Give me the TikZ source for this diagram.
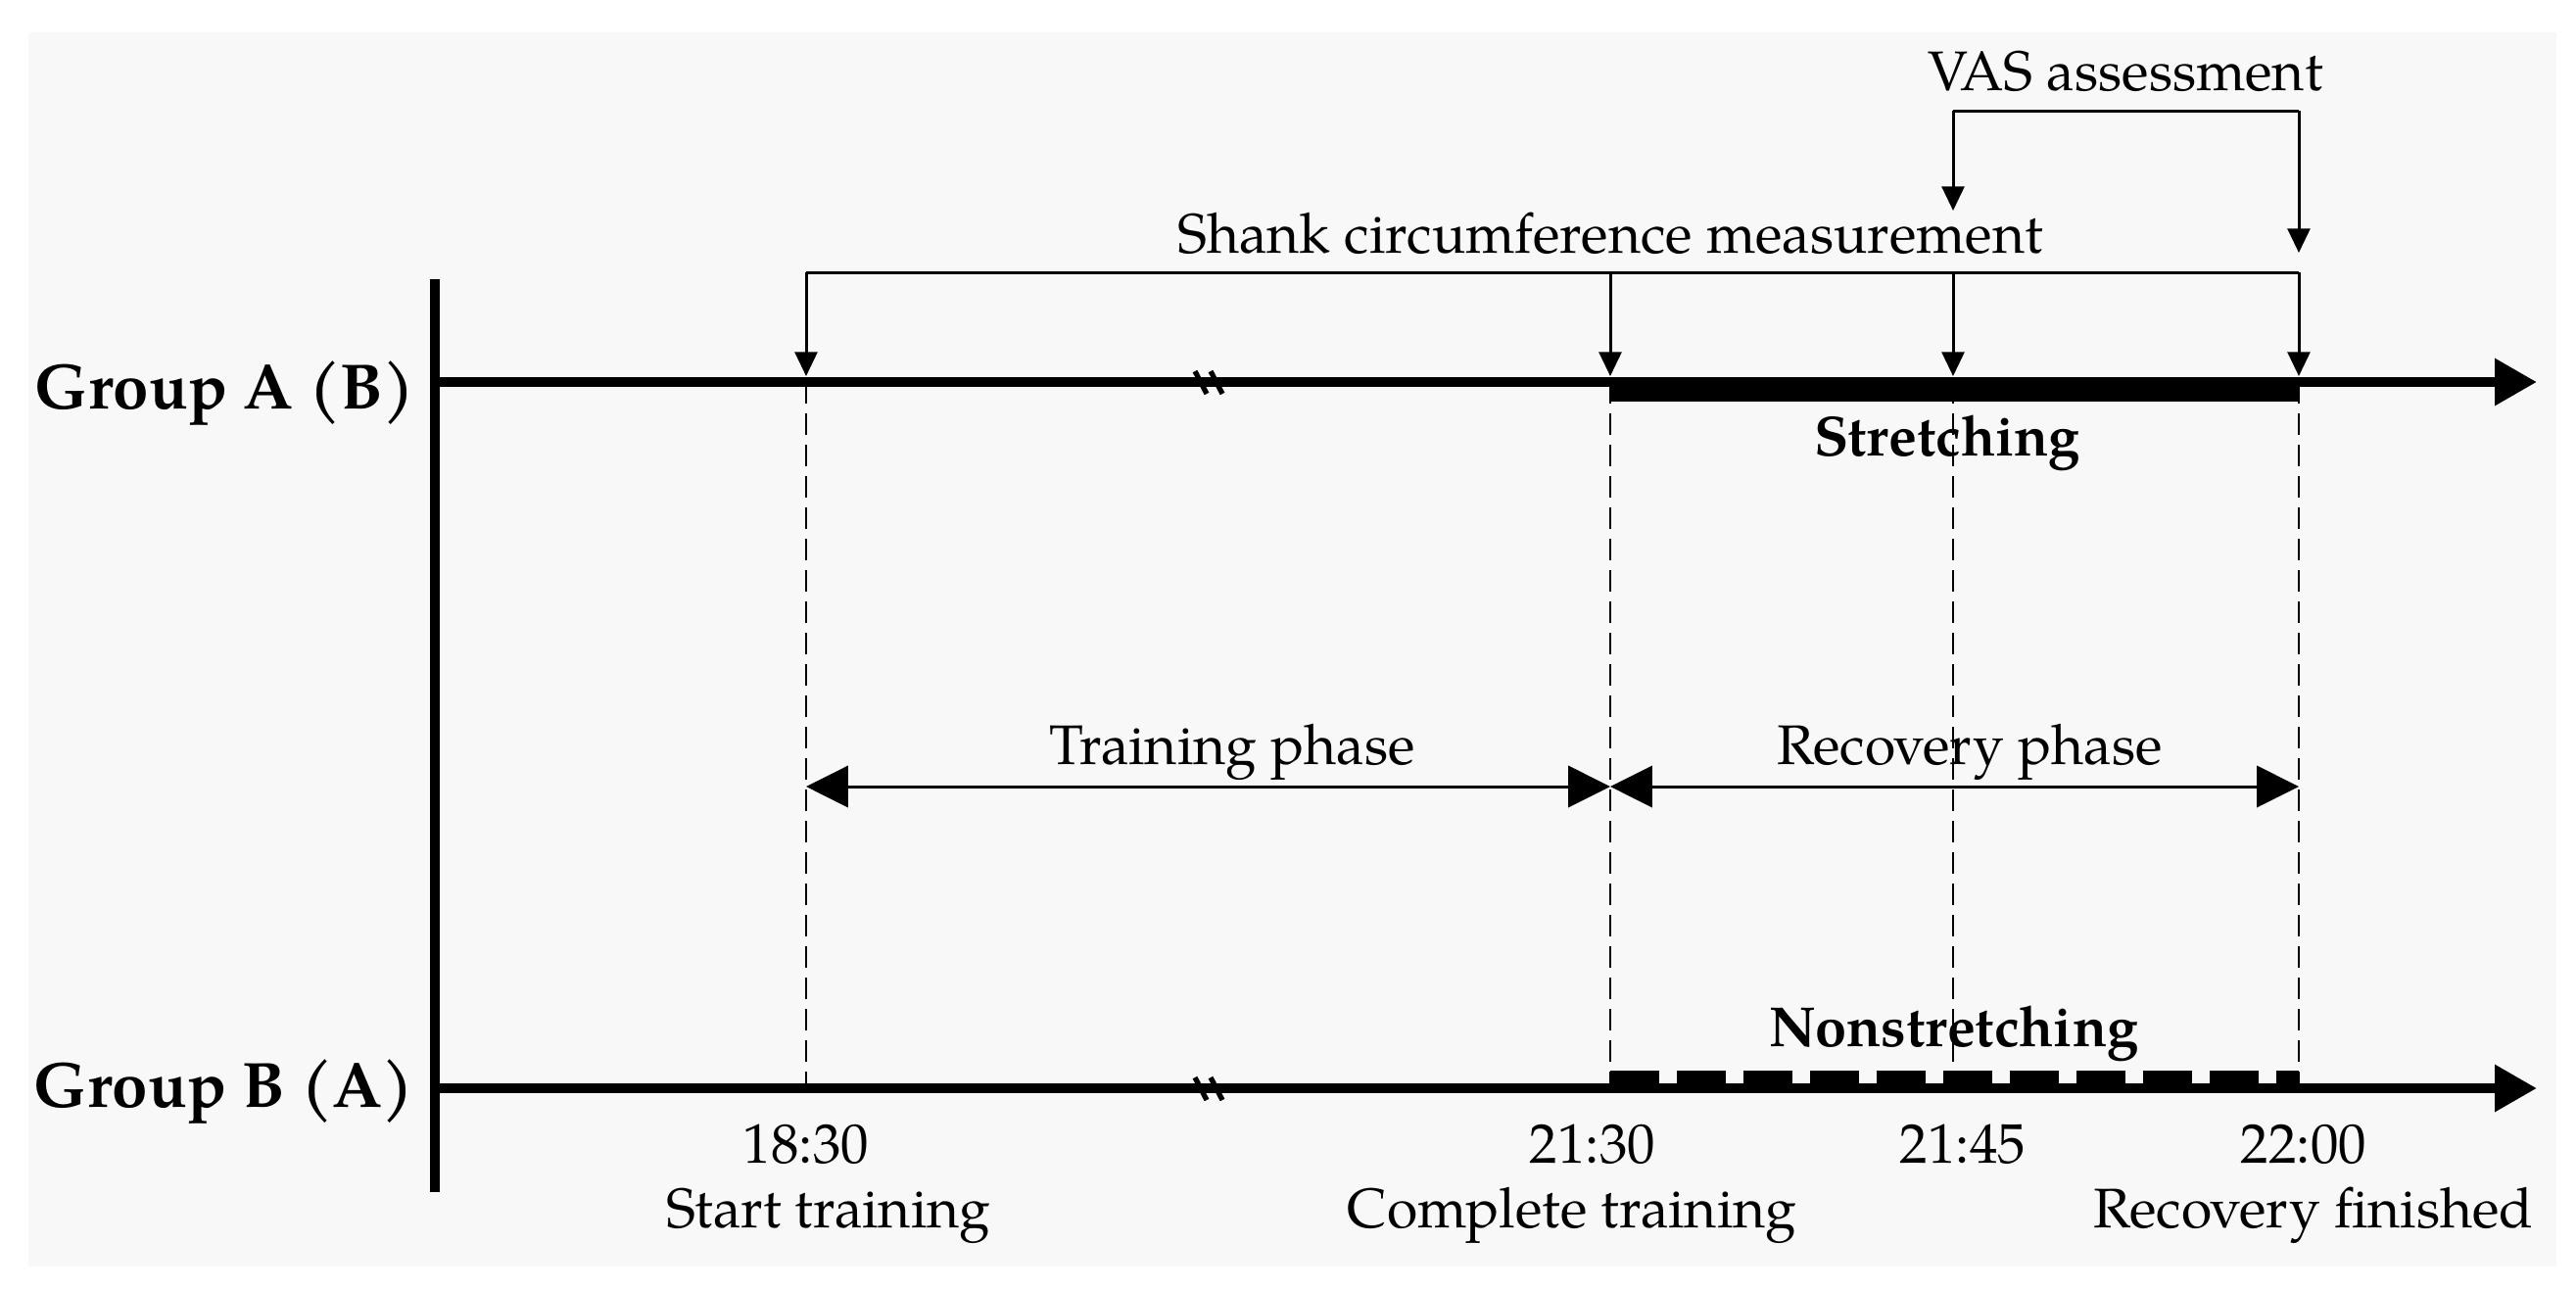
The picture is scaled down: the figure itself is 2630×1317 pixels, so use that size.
\documentclass[tikz,border=0pt]{standalone}
\usepackage{fontspec}
\setmainfont{texgyrepagella}[Extension=.otf,UprightFont=*-regular,BoldFont=*-bold,ItalicFont=*-italic,BoldItalicFont=*-bolditalic]
\usetikzlibrary{arrows.meta}
\definecolor{bgc}{RGB}{248,248,248}
\begin{document}
\begin{tikzpicture}[x=0.01cm,y=-0.01cm,
  mainline/.style={line width=2.85pt},
  thinline/.style={line width=0.85pt},
  guide/.style={line width=0.7pt, dash pattern=on 6.3pt off 2.8pt},
  lbl/.style={inner sep=0pt, anchor=base, font=\fontsize{16.2}{19}\selectfont},
  blbl/.style={inner sep=0pt, anchor=base, font=\fontsize{16.4}{19}\selectfont\bfseries},
  glbl/.style={inner sep=0pt, anchor=base east, font=\fontsize{18.6}{22}\selectfont\bfseries},
  bigtip/.style={-{Triangle[length=12.2pt,width=13pt]}},
  smalltip/.style={-{Triangle[length=7pt,width=6.5pt]}},
  phase/.style={thinline,{Triangle[length=12.2pt,width=12pt]}-{Triangle[length=12.2pt,width=12pt]}},
  breakmark/.style={line width=1.5pt},
]
\useasboundingbox (0,0) rectangle (2630,1317);
\fill[bgc] (29,33) rectangle (2610,1293);

% coordinates
\coordinate (A0) at (444,390);
\coordinate (Aend) at (2590,390);
\coordinate (B0) at (444,1111);
\coordinate (Bend) at (2590,1111);
\coordinate (A1) at (823,390);
\coordinate (A2) at (1644,390);
\coordinate (A3) at (1994,390);
\coordinate (A4) at (2347,390);
\coordinate (B1) at (823,1111);
\coordinate (B2) at (1644,1111);
\coordinate (B3) at (1994,1111);
\coordinate (B4) at (2347,1111);
\coordinate (S1) at (823,278);
\coordinate (S2) at (1644,278);
\coordinate (S3) at (1994,278);
\coordinate (S4) at (2347,278);
\coordinate (T1) at (823,384);
\coordinate (T2) at (1644,384);
\coordinate (T3) at (1994,384);
\coordinate (T4) at (2347,384);
\coordinate (V3) at (1994,113);
\coordinate (V4) at (2347,113);
\coordinate (W3) at (1994,215);
\coordinate (W4) at (2347,258);
\coordinate (P1) at (823,803);
\coordinate (P2) at (1644,803);
\coordinate (P4) at (2347,803);
\coordinate (Ytop) at (444,285);
\coordinate (Ybot) at (444,1217);

% dashed guides
\draw[guide] (A1) -- (B1);
\draw[guide] (A2) -- (B2);
\draw[guide] (A3) -- (B3);
\draw[guide] (A4) -- (B4);

% axis and timelines
\draw[mainline] (Ytop) -- (Ybot);
\draw[mainline,bigtip] (A0) -- (Aend);
\draw[mainline,bigtip] (B0) -- (Bend);

% break marks
\draw[breakmark] (1220,379) -- (1232,402) (1236,379) -- (1248,402);
\draw[breakmark] (1220,1100) -- (1232,1123) (1236,1100) -- (1248,1123);

% stretching bar
\fill (1644,385) rectangle (2347,410);
% nonstretching bar
\draw[line width=4.27pt, dash pattern=on 14.23pt off 5.12pt] (1644,1100.5) -- (2347,1100.5);

% shank bracket
\draw[thinline] (S1) -- (S4);
\draw[thinline,smalltip] (S1) -- (T1);
\draw[thinline,smalltip] (S2) -- (T2);
\draw[thinline,smalltip] (S3) -- (T3);
\draw[thinline,smalltip] (S4) -- (T4);

% VAS bracket
\draw[thinline] (V3) -- (V4);
\draw[thinline,smalltip] (V3) -- (W3);
\draw[thinline,smalltip] (V4) -- (W4);

% phases
\draw[phase] (P1) -- (P2);
\draw[phase] (P2) -- (P4);

% labels
\node[lbl] (vas) at (2170,92) {VAS assessment};
\node[lbl] (shank) at (1644,258) {Shank circumference measurement};
\node[blbl] (str) at (1988,465) {Stretching};
\node[lbl] (tp) at (1258,780) {Training phase};
\node[lbl] (rp) at (2011,780) {Recovery phase};
\node[blbl] (nst) at (1995,1068) {Nonstretching};
\node[glbl] (ga) at (424,417) {Group A (B)};
\node[glbl] (gb) at (423,1130) {Group B (A)};
\node[lbl] (t1) at (823,1187) {18:30};
\node[lbl] (t2) at (1626,1187) {21:30};
\node[lbl] (t3) at (2004,1187) {21:45};
\node[lbl] (t4) at (2352,1187) {22:00};
\node[lbl] (d1) at (846,1253) {Start training};
\node[lbl] (d2) at (1605,1253) {Complete training};
\node[lbl] (d4) at (2362,1253) {Recovery finished};
\end{tikzpicture}
\end{document}
